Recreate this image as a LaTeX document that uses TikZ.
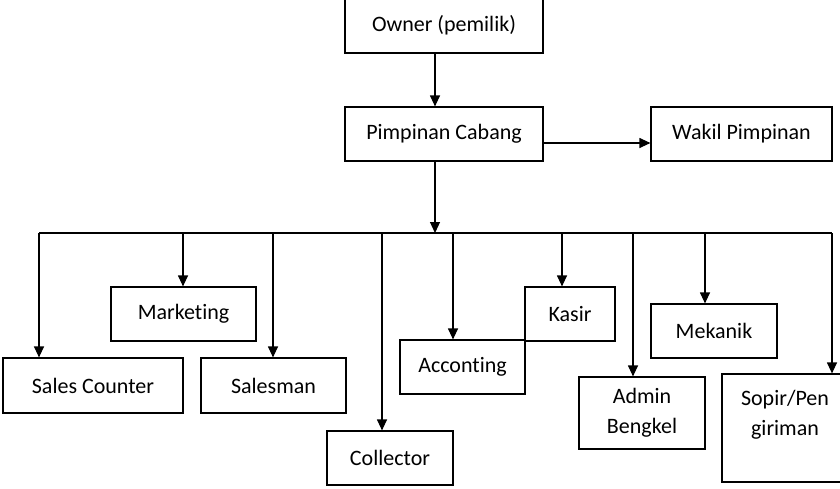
\documentclass[tikz,border=0pt]{standalone}
\usepackage{fontspec}
\setmainfont[Ligatures={NoCommon}]{Carlito}
\usetikzlibrary{arrows.meta}
\begin{document}
\begin{tikzpicture}[x=1pt,y=-1pt,
  box/.style={draw, line width=1.2pt, rectangle, inner sep=0pt, fill=white,
    font=\fontsize{22}{30}\selectfont, align=center},
  arr/.style={line width=1.2pt, -{Triangle[length=11pt,width=10pt]}},
  ln/.style={line width=1.2pt}]
\useasboundingbox (0,0) rectangle (840,488);
% boxes
\node[box, minimum width=198, minimum height=55] (own) at (444,25.5) {Owner (pemilik)};
\node[box, minimum width=198, minimum height=54] (pim) at (444,134) {Pimpinan Cabang};
\node[box, minimum width=181, minimum height=54] (wak) at (741.5,134) {Wakil Pimpinan};
\node[box, minimum width=145, minimum height=54] (mkt) at (183.5,314) {Marketing};
\node[box, minimum width=180, minimum height=55] (sc) at (93,385.5) {Sales Counter};
\node[box, minimum width=145, minimum height=55] (sls) at (273.5,385.5) {Salesman};
\node[box, minimum width=126, minimum height=54] (col) at (390,458) {Collector};
\node[box, minimum width=125, minimum height=54] (acc) at (462.5,367) {Acconting};
\node[box, minimum width=90, minimum height=54] (kas) at (570,314) {Kasir};
\node[box, minimum width=126, minimum height=54] (mek) at (714,331) {Mekanik};
\node[box, minimum width=126, minimum height=72] (adm) at (642,413) {Admin\\Bengkel};
\node[box, minimum width=126, minimum height=108] (sop) at (785,428) {Sopir/Pen\\giriman\\\mbox{}};
% coordinates
\coordinate (top) at (435,233);
\coordinate (busL) at (39,233);
\coordinate (busR) at (832,233);
\coordinate (d1) at (39,233);
\coordinate (d2) at (183,233);
\coordinate (d3) at (273,233);
\coordinate (d4) at (382,233);
\coordinate (d5) at (453,233);
\coordinate (d6) at (562,233);
\coordinate (d7) at (633,233);
\coordinate (d8) at (705,233);
\coordinate (d9) at (832,233);
% connectors
\draw[arr] (own.south -| top) -- (pim.north -| top);
\draw[arr] ([yshift=-9]pim.east) -- ([yshift=-9]wak.west);
\draw[arr] (pim.south -| top) -- (top);
\draw[ln] (busL) -- (busR);
\draw[arr] (d1) -- (d1 |- sc.north);
\draw[arr] (d2) -- (d2 |- mkt.north);
\draw[arr] (d3) -- (d3 |- sls.north);
\draw[arr] (d4) -- (d4 |- col.north);
\draw[arr] (d5) -- (d5 |- acc.north);
\draw[arr] (d6) -- (d6 |- kas.north);
\draw[arr] (d7) -- (d7 |- adm.north);
\draw[arr] (d8) -- (d8 |- mek.north);
\draw[arr] (d9) -- (d9 |- sop.north);
\end{tikzpicture}
\end{document}
